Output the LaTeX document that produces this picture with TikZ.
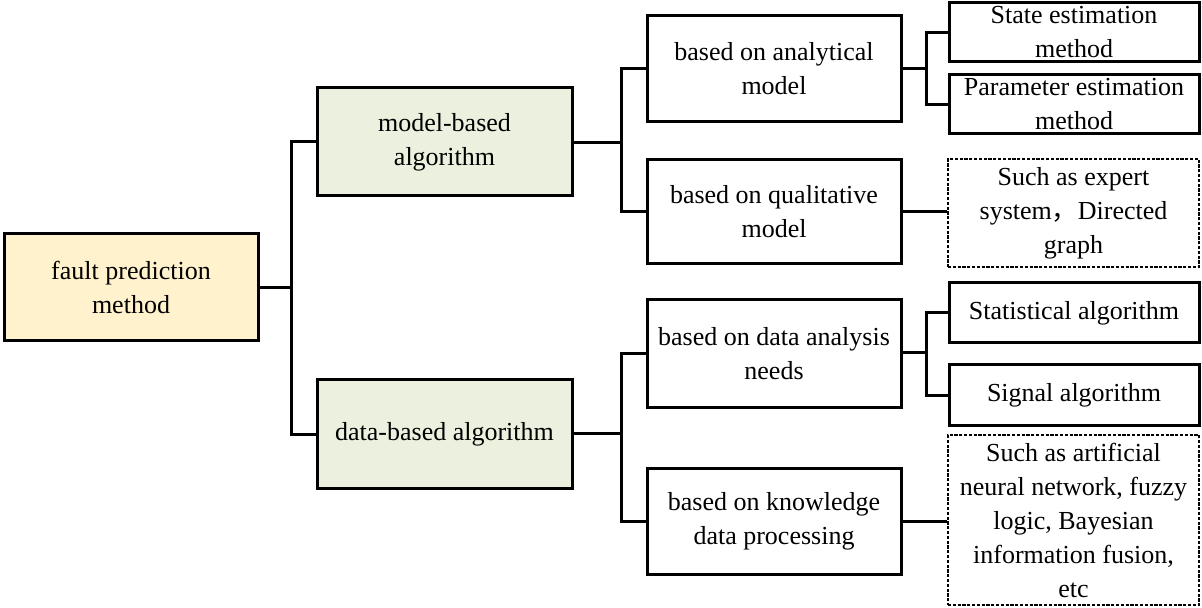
\documentclass[tikz,border=0pt]{standalone}
\usepackage{fontspec}
\setmainfont{Liberation Serif}
\newfontfamily\cjk{Noto Sans CJK SC}
\begin{document}
\begin{tikzpicture}[x=0.5pt,y=-0.5pt,
  every node/.style={font=\fontsize{13}{17}\selectfont, align=center, inner sep=0pt},
  box/.style={draw=black, line width=1.5pt, fill=white},
  rootbox/.style={box, fill=rootfill},
  catbox/.style={box, fill=catfill},
  notebox/.style={draw=black, line width=1.3pt, dash pattern=on 1.6pt off 0.8pt, fill=white},
  link/.style={draw=black, line width=1.5pt, line join=miter}]
\definecolor{rootfill}{HTML}{FFF2CC}
\definecolor{catfill}{HTML}{EBF1DE}
\useasboundingbox (0,0) rectangle (1202,608);

% level 0
\node[rootbox, minimum width=127pt, minimum height=53.5pt] (root) at (131,287.5) {fault prediction\\method};

% level 1
\node[catbox, minimum width=127.5pt, minimum height=54pt] (model) at (444.5,142) {model-based\\algorithm};
\node[catbox, minimum width=127.5pt, minimum height=54pt] (data) at (444.5,434) {data-based algorithm};

% level 2
\node[box, minimum width=127pt, minimum height=53pt] (analytic) at (774,69) {based on analytical\\model};
\node[box, minimum width=127pt, minimum height=52pt] (quali) at (774,212) {based on qualitative\\model};
\node[box, minimum width=127pt, minimum height=53.5pt] (needs) at (774,353.5) {based on data analysis\\needs};
\node[box, minimum width=127pt, minimum height=53pt] (know) at (774,521) {based on knowledge\\data processing};

% level 3
\node[box, minimum width=125pt, minimum height=29.5pt] (state) at (1074,32.5) {State estimation\\method};
\node[box, minimum width=125pt, minimum height=29.5pt] (param) at (1074,104.5) {Parameter estimation\\method};
\node[notebox, minimum width=125.5pt, minimum height=54pt] (expert) at (1073.5,213) {Such as expert\\system{\cjk ，}Directed\\graph};
\node[box, minimum width=125pt, minimum height=30pt] (stat) at (1074,313) {Statistical algorithm};
\node[box, minimum width=125pt, minimum height=30pt] (signal) at (1074,395) {Signal algorithm};
\node[notebox, minimum width=125.5pt, minimum height=85pt] (ann) at (1073.5,520) {Such as artificial\\neural network, fuzzy\\logic, Bayesian\\information fusion,\\etc};

% junction points of the tree
\coordinate (j0) at (291,288);
\coordinate (j1) at (621,143);
\coordinate (j2) at (621,433);
\coordinate (j3) at (926,69);
\coordinate (j4) at (926,353);

% connectors
\draw[link] (root.east |- j0) -- (j0);
\draw[link] (model.west) -| (j0) |- (data.west);

\draw[link] (model.east |- j1) -- (j1);
\draw[link] (analytic.west) -| (j1) |- (quali.west);
\draw[link] (data.east |- j2) -- (j2);
\draw[link] (needs.west) -| (j2) |- (know.west);

\draw[link] (analytic.east) -- (j3);
\draw[link] (state.west) -| (j3) |- (param.west);
\draw[link] (quali.east) -- (quali.east -| expert.west);

\draw[link] (needs.east |- j4) -- (j4);
\draw[link] (stat.west) -| (j4) |- (signal.west);
\draw[link] (know.east) -- (know.east -| ann.west);
\end{tikzpicture}
\end{document}
